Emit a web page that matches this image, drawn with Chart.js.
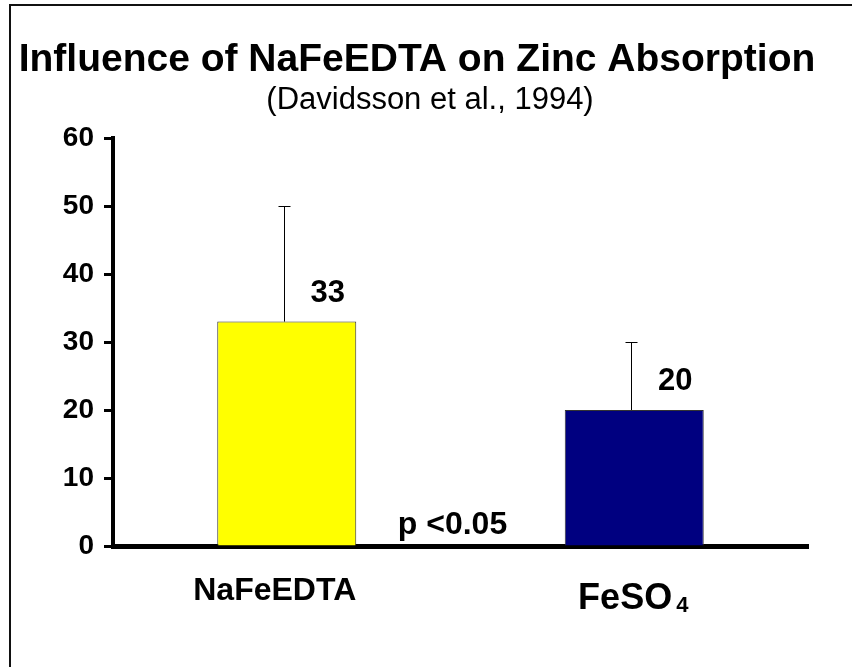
<!DOCTYPE html>
<html><head><meta charset="utf-8">
<style>html,body{margin:0;padding:0;background:#fff}canvas{display:block}</style>
<script src="https://cdn.jsdelivr.net/npm/chart.js@4/dist/chart.umd.min.js"></script>
</head><body>
<canvas id="c" width="852" height="667"></canvas>
<script>
// ---- data ----
const categories = ['NaFeEDTA', 'FeSO4'];
const zincAbsorption = [33, 20];
const errorPlus = [17, 10];
const yTickValues = [0, 10, 20, 30, 40, 50, 60];
const titleText = 'Influence of NaFeEDTA on Zinc Absorption';
const subtitleText = '(Davidsson et al., 1994)';
const pValueText = 'p <0.05';

const FONT = '"Liberation Sans", Arial, Helvetica, sans-serif';

const decorPlugin = {
  id: 'decor',
  beforeDraw(chart) {
    const ctx = chart.ctx;
    ctx.save();
    ctx.fillStyle = '#fff';
    ctx.fillRect(0, 0, chart.width, chart.height);
    // frame (left + top)
    ctx.strokeStyle = '#111';
    ctx.lineWidth = 2;
    ctx.beginPath();
    ctx.moveTo(10, chart.height);
    ctx.lineTo(10, 5);
    ctx.lineTo(chart.width, 5);
    ctx.stroke();
    // titles
    ctx.fillStyle = '#000';
    ctx.textAlign = 'center';
    ctx.textBaseline = 'alphabetic';
    ctx.font = 'bold 39px ' + FONT;
    ctx.fillText(titleText, 417, 71);
    ctx.font = '31px ' + FONT;
    ctx.fillText(subtitleText, 430, 109);
    ctx.restore();
  },
  afterDatasetsDraw(chart) {
    const ctx = chart.ctx;
    const meta = chart.getDatasetMeta(0);
    const ys = chart.scales.y;
    const xs = chart.scales.x;
    ctx.save();
    // error bars (upper only)
    ctx.strokeStyle = '#000';
    ctx.lineWidth = 1;
    meta.data.forEach((bar, i) => {
      const x = Math.round(bar.x) - 2.5;
      const yTop = ys.getPixelForValue(zincAbsorption[i] + errorPlus[i]);
      const yBase = ys.getPixelForValue(zincAbsorption[i]);
      ctx.beginPath();
      ctx.moveTo(x, yBase);
      ctx.lineTo(x, Math.round(yTop) + 0.5);
      ctx.moveTo(x - 6, Math.round(yTop) + 0.5);
      ctx.lineTo(x + 6, Math.round(yTop) + 0.5);
      ctx.stroke();
    });
    // value labels
    ctx.fillStyle = '#000';
    ctx.textAlign = 'center';
    ctx.textBaseline = 'alphabetic';
    ctx.font = 'bold 31px ' + FONT;
    meta.data.forEach((bar, i) => {
      ctx.fillText(String(zincAbsorption[i]), bar.x + 41, ys.getPixelForValue(zincAbsorption[i]) - 20);
    });
    // p value
    ctx.font = 'bold 32px ' + FONT;
    const midX = (xs.getPixelForValue(0) + xs.getPixelForValue(1)) / 2;
    ctx.fillText(pValueText, midX - 8, 534);
    // category labels
    const c0 = xs.getPixelForValue(0);
    ctx.font = 'bold 32px ' + FONT;
    ctx.fillText(categories[0], c0 - 12, 600);
    const c1 = xs.getPixelForValue(1);
    const main = categories[1].slice(0, -1);
    const sub = categories[1].slice(-1);
    ctx.font = 'bold 36px ' + FONT;
    const wMain = ctx.measureText(main).width;
    ctx.font = 'bold 22px ' + FONT;
    const wSub = ctx.measureText(sub).width;
    const gap = 4;
    const startX = c1 - 1 - (wMain + gap + wSub) / 2;
    ctx.textAlign = 'left';
    ctx.font = 'bold 36px ' + FONT;
    ctx.fillText(main, startX, 609);
    ctx.font = 'bold 22px ' + FONT;
    ctx.fillText(sub, startX + wMain + gap, 612);
    ctx.restore();
  }
};

new Chart(document.getElementById('c'), {
  type: 'bar',
  data: {
    labels: categories,
    datasets: [{
      data: zincAbsorption,
      backgroundColor: ['#FFFF00', '#000080'],
      borderColor: '#333333',
      borderWidth: 1,
      barPercentage: 0.4,
      categoryPercentage: 1.0
    }]
  },
  options: {
    responsive: false,
    animation: false,
    devicePixelRatio: 1,
    layout: { padding: { left: 0, right: 44, top: 138, bottom: 0 } },
    plugins: { legend: { display: false }, title: { display: false }, tooltip: { enabled: false } },
    scales: {
      x: {
        grid: { display: false, drawTicks: false },
        border: { display: true, color: '#000', width: 5 },
        ticks: { display: false },
        afterFit(scale) { scale.height = 121; }
      },
      y: {
        min: 0, max: 60,
        afterBuildTicks(scale) { scale.ticks = yTickValues.map(v => ({ value: v })); },
        grid: { display: true, drawOnChartArea: false, drawTicks: true, tickLength: 9, tickWidth: 3, tickColor: '#000' },
        border: { display: true, color: '#000', width: 4 },
        ticks: { color: '#000', padding: 10, font: { family: FONT, size: 28, weight: 'bold' } },
        afterFit(scale) { scale.width = 113; }
      }
    }
  },
  plugins: [decorPlugin]
});
</script>
</body></html>
